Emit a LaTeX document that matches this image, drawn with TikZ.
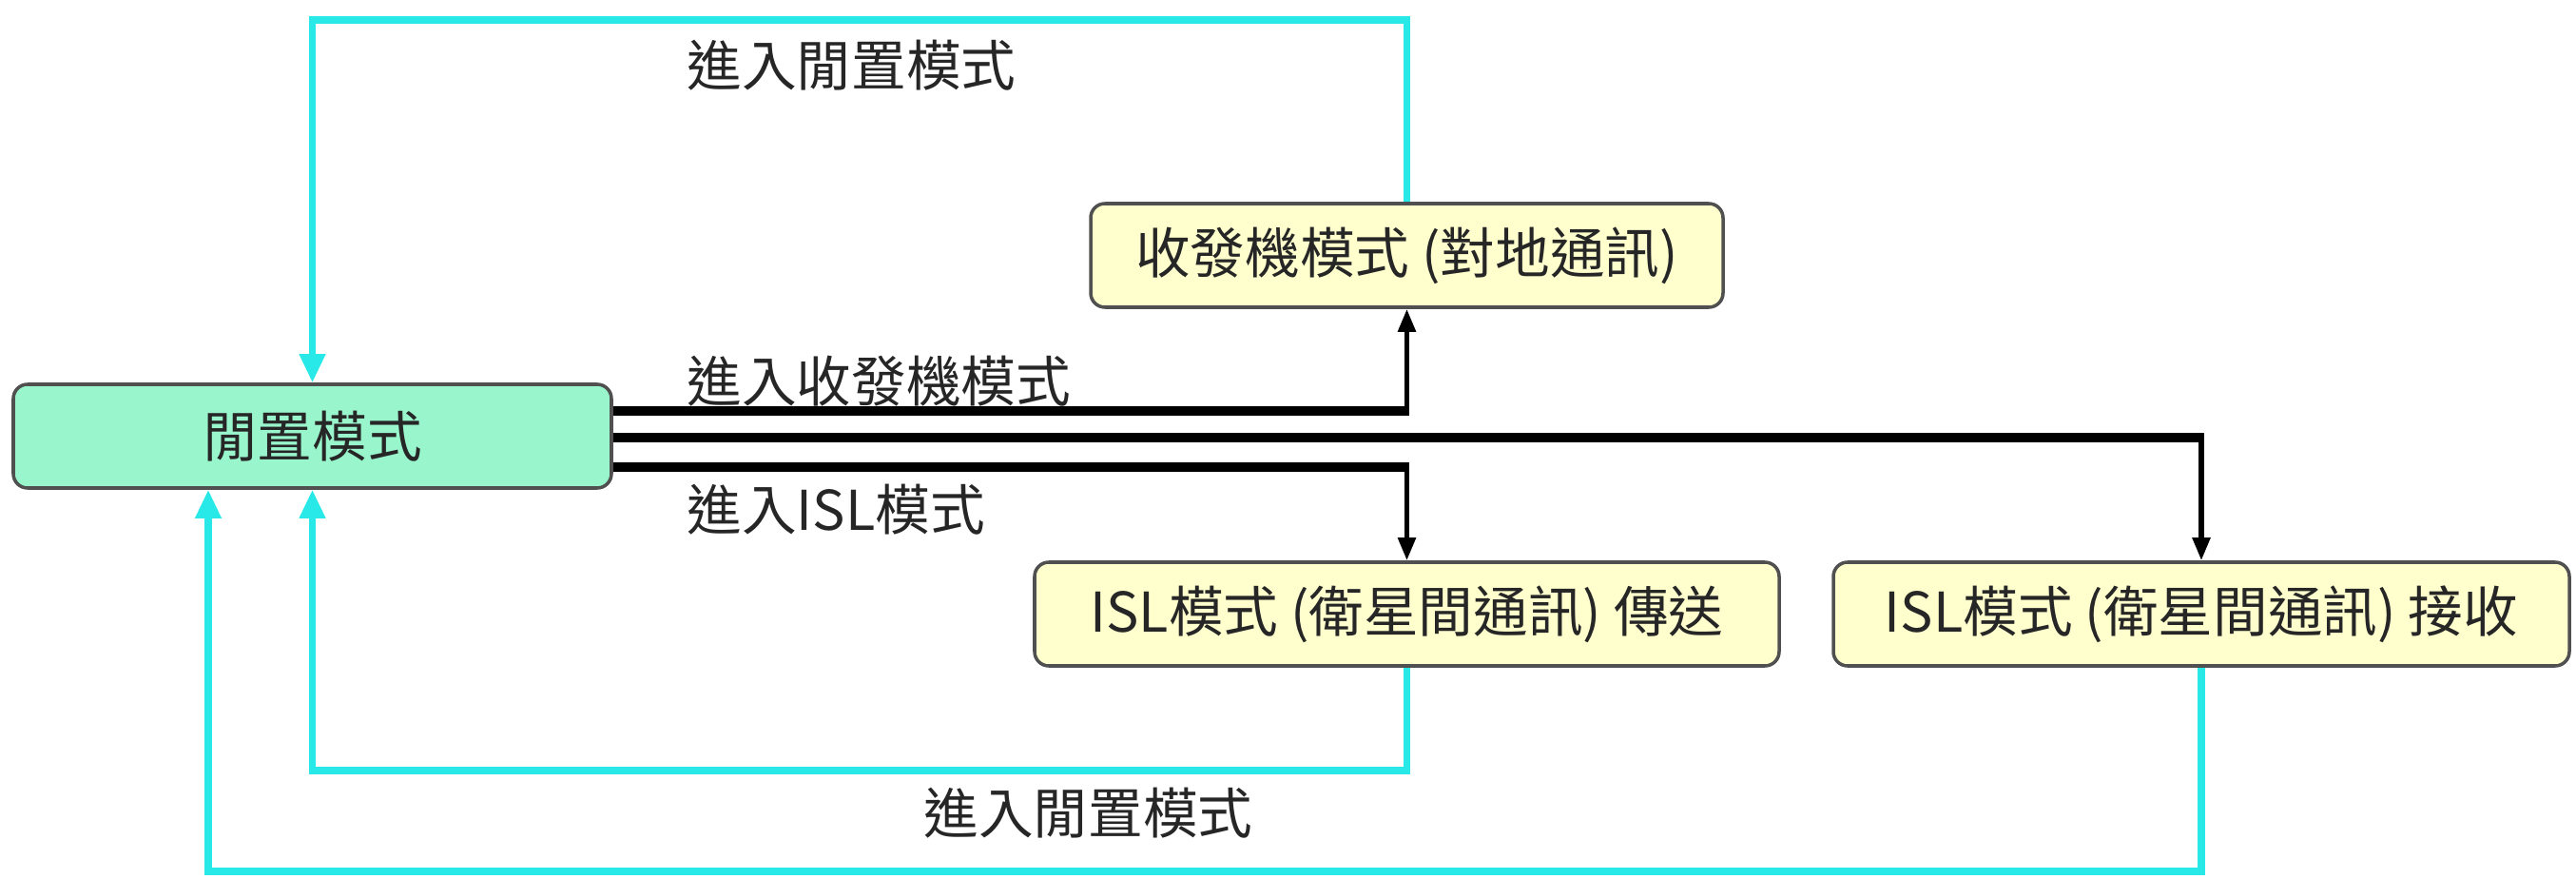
\documentclass[tikz,border=0pt]{standalone}
\usepackage{fontspec}
\setmainfont{Noto Sans CJK TC}
\usetikzlibrary{arrows.meta,calc}
\definecolor{mint}{RGB}{153,245,204}
\definecolor{paleyellow}{RGB}{255,255,206}
\definecolor{aqua}{RGB}{40,232,232}
\definecolor{edgegray}{RGB}{80,80,80}
\begin{document}
\begin{tikzpicture}[x=1cm,y=1cm,
  box/.style={draw=edgegray, line width=1pt, rounded corners=0.15cm, minimum height=1.09cm, inner sep=0pt, font=\fontsize{16.4}{19}\selectfont, text=black!85},
  idlebox/.style={box, fill=mint},
  modebox/.style={box, fill=paleyellow},
  lbl/.style={font=\fontsize{16.4}{19}\selectfont, inner sep=0pt, text=black!85},
  blkh/.style={line width=2.6pt, black},
  blkv/.style={line width=1.5pt, black, -{Triangle[length=0.24cm,width=0.18cm]}},
  cyanln/.style={line width=2pt, aqua, line join=miter, -{Triangle[length=0.3cm,width=0.26cm]}},
]
\useasboundingbox (0,0) rectangle (27.09,9.23);
\node[idlebox, minimum width=6.29cm] (idle) at (3.285,4.645) {閒置模式};
\node[modebox, minimum width=6.65cm] (trx) at (14.795,6.545) {收發機模式 (對地通訊)};
\node[modebox, minimum width=7.83cm] (tx) at (14.795,2.775) {ISL模式 (衛星間通訊) 傳送};
\node[modebox, minimum width=7.74cm] (rx) at (23.15,2.775) {ISL模式 (衛星間通訊) 接收};

% black connectors
\coordinate (b1) at (14.795,4.91);
\coordinate (b2) at (23.15,4.63);
\coordinate (b3) at (14.795,4.32);
\draw[blkh] (idle.east |- b1) -- ($(b1)+(0.75pt,0)$);
\draw[blkv] ($(b1)+(0,-1.3pt)$) -- (trx.south);
\draw[blkh] (idle.east |- b2) -- ($(b2)+(0.75pt,0)$);
\draw[blkv] ($(b2)+(0,1.3pt)$) -- (rx.north);
\draw[blkh] (idle.east |- b3) -- ($(b3)+(0.75pt,0)$);
\draw[blkv] ($(b3)+(0,1.3pt)$) -- (tx.north);

% cyan return connectors
\coordinate (ctop) at (3.285,9.02);
\coordinate (cb1) at (3.285,1.13);
\coordinate (cb2) at (2.19,0.07);
\draw[cyanln] (trx.north) |- (ctop) -- (idle.north);
\draw[cyanln] (tx.south) |- (cb1) -- (idle.south);
\draw[cyanln] (rx.south) |- (cb2) -- (idle.south -| cb2);

% labels
\node[lbl, anchor=west] (l1) at (7.22,8.54) {進入閒置模式};
\node[lbl, anchor=west] (l2) at (7.22,5.22) {進入收發機模式};
\node[lbl, anchor=west] (l3) at (7.22,3.87) {進入ISL模式};
\node[lbl, anchor=west] (l4) at (9.71,0.68) {進入閒置模式};
\end{tikzpicture}
\end{document}
